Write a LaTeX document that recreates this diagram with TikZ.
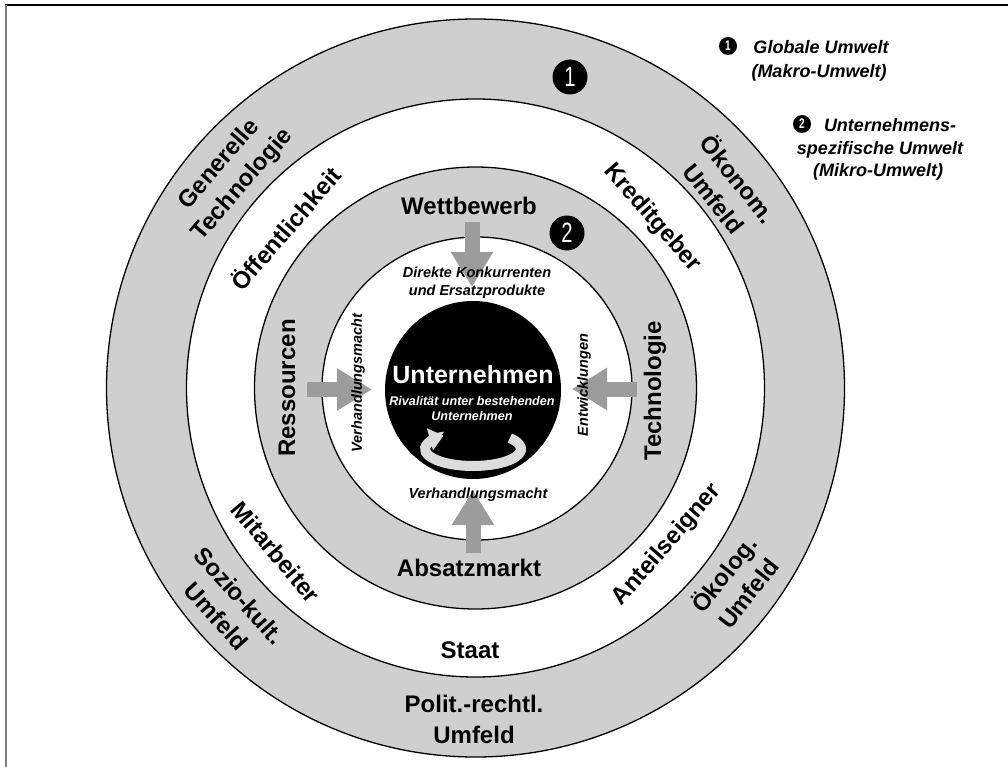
\documentclass[tikz,border=0pt]{standalone}
\usepackage{fontspec}
\setmainfont{Liberation Sans}
\newfontfamily\condfont[FakeStretch=0.72]{Liberation Sans}
\usetikzlibrary{arrows.meta}
\definecolor{ringgray}{HTML}{CFCFCF}
\definecolor{arrowgray}{HTML}{9C9C9C}
\definecolor{swirlgray}{HTML}{DCDCDC}

\begin{document}
\begin{tikzpicture}[x=1pt,y=-1pt,
  biglabel/.style={font=\bfseries\fontsize{24}{31}\selectfont, align=center, inner sep=0pt},
  smalllabel/.style={font=\bfseries\itshape\fontsize{14.5}{18}\selectfont, align=center, inner sep=0pt},
  legendtext/.style={font=\bfseries\itshape\fontsize{18}{26}\selectfont, inner sep=0pt},
  ringnum/.style={circle, fill=black, text=white, minimum size=35pt, inner sep=0pt,
    font=\condfont\fontsize{28}{28}\selectfont},
  bulletnum/.style={circle, fill=black, text=white, minimum size=18pt, inner sep=0pt,
    font=\condfont\bfseries\fontsize{14}{14}\selectfont},
  blockarrow/.style={draw=arrowgray, line width=15pt, -{Triangle[width=40pt,length=35pt]}},
  ringline/.style={draw=black, line width=1.3pt}
]
\useasboundingbox (0,0) rectangle (1008,767);
\fill[white] (0,0) rectangle (1008,767);

% frame edges
\draw[black, line width=1.3pt] (5,5) -- (1008,5);
\draw[gray, line width=2.5pt] (6,5) -- (6,767);

% concentric environment rings
\coordinate (C) at (475.5,388);
\draw[ringline, fill=ringgray] (C) circle[radius=369];
\draw[ringline, fill=white] (C) circle[radius=289];
\draw[ringline, fill=ringgray] (C) circle[radius=221];
\draw[ringline, fill=white] (477,388.5) ellipse[x radius=155, y radius=151.5];
\fill[black] (473,390) ellipse[x radius=88, y radius=89];

% forces acting on the company
\coordinate (topS) at (472,222);   \coordinate (topT) at (472,287);
\coordinate (botS) at (473,553);   \coordinate (botT) at (473,490);
\coordinate (lefS) at (307,389.5); \coordinate (lefT) at (372,389.5);
\coordinate (rigS) at (637,389);   \coordinate (rigT) at (572,389);
\draw[blockarrow] (topS) -- (topT);
\draw[blockarrow] (botS) -- (botT);
\draw[blockarrow] (lefS) -- (lefT);
\draw[blockarrow] (rigS) -- (rigT);

% rivalry swirl
\draw[swirlgray, line width=10pt, -{Triangle[width=22pt,length=14pt]}]
  (473,449) ++(-40:48 and 17) arc[start angle=-40, end angle=232, x radius=48, y radius=17];

% global environment
\node[biglabel, rotate=49]   (gentech) at (231,175) {Generelle\\Technologie};
\node[biglabel, rotate=-51.5] (oekonom) at (727,188) {Ökonom.\\Umfeld};
\node[biglabel, rotate=-48]  (sozio)   at (228,606) {Sozio-kult.\\Umfeld};
\node[biglabel, rotate=52]   (oekolog) at (735,583) {Ökolog.\\Umfeld};
\node[biglabel]              (polit)   at (474,719.5) {Polit.-rechtl.\\Umfeld};

% stakeholders
\node[biglabel, rotate=49]  (oeff)   at (285,228) {Öffentlichkeit};
\node[biglabel, rotate=-49] (kredit) at (652,218) {Kreditgeber};
\node[biglabel, rotate=-50] (mitarb) at (276,552) {Mitarbeiter};
\node[biglabel, rotate=49]  (anteil) at (667,545) {Anteilseigner};
\node[biglabel]             (staat)  at (470,650) {Staat};

% industry environment
\node[biglabel]            (wett)   at (469,206) {Wettbewerb};
\node[biglabel]            (absatz) at (469,568) {Absatzmarkt};
\node[biglabel, rotate=90] (ress)   at (287,388) {Ressourcen};
\node[biglabel, rotate=90] (techno) at (655,391) {Technologie};

% force descriptions
\node[smalllabel]            (direkt)   at (477,283) {Direkte Konkurrenten\\und Ersatzprodukte};
\node[smalllabel, rotate=90] (vhleft)   at (358,383) {Verhandlungsmacht};
\node[smalllabel, rotate=90] (entw)     at (584,385) {Entwicklungen};
\node[smalllabel]            (vhbottom) at (478,495) {Verhandlungsmacht};

% company core
\node[font=\bfseries\fontsize{25}{28}\selectfont, text=white, inner sep=0pt] (unt) at (473,375) {Unternehmen};
\node[font=\bfseries\itshape\fontsize{12.6}{15}\selectfont, text=white, align=center, inner sep=0pt]
  (rival) at (472,408.5) {Rivalität unter bestehenden\\Unternehmen};

% ring numbers
\node[ringnum] (n1) at (570,77) {1};
\node[ringnum] (n2) at (567,233) {2};

% legend
\node[bulletnum]  (b1)   at (728,46) {1};
\node[legendtext] (leg1a) at (821,47) {Globale Umwelt};
\node[legendtext] (leg1b) at (819,73) {(Makro-Umwelt)};
\node[bulletnum]  (b2)   at (802,124) {2};
\node[legendtext] (leg2a) at (890,125) {Unternehmens-};
\node[legendtext] (leg2b) at (880,150) {spezifische Umwelt};
\node[legendtext] (leg2c) at (878,172) {(Mikro-Umwelt)};
\end{tikzpicture}
\end{document}
